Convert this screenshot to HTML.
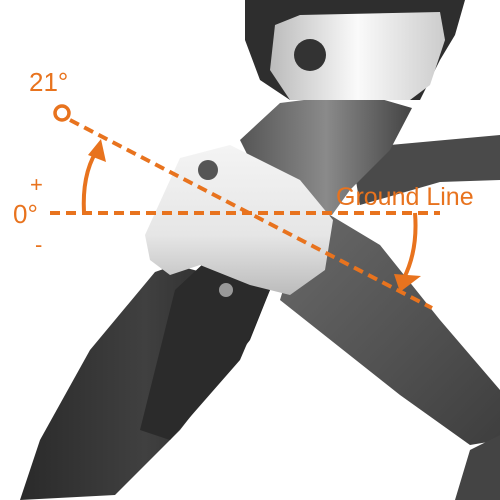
<!DOCTYPE html>
<html><head><meta charset="utf-8"><style>
html,body{margin:0;padding:0;background:#fff;width:500px;height:500px;overflow:hidden}
svg{display:block}
text{font-family:"Liberation Sans",sans-serif;fill:#e8731e}
</style></head><body>
<svg width="500" height="500" viewBox="0 0 500 500">
<defs>
<linearGradient id="legA" x1="0" y1="0" x2="1" y2="0"><stop offset="0" stop-color="#2a2a2a"/><stop offset="0.5" stop-color="#404040"/><stop offset="1" stop-color="#222"/></linearGradient>
<linearGradient id="legB" x1="0" y1="0" x2="1" y2="1"><stop offset="0" stop-color="#6a6a6a"/><stop offset="1" stop-color="#3e3e3e"/></linearGradient>
<linearGradient id="white" x1="0" y1="0" x2="0" y2="1"><stop offset="0" stop-color="#f4f4f4"/><stop offset="0.6" stop-color="#e6e6e6"/><stop offset="1" stop-color="#bbb"/></linearGradient>
<linearGradient id="torso" x1="0" y1="0" x2="1" y2="0"><stop offset="0" stop-color="#555"/><stop offset="0.5" stop-color="#8a8a8a"/><stop offset="1" stop-color="#444"/></linearGradient>
<linearGradient id="visor" x1="0" y1="0" x2="1" y2="0"><stop offset="0" stop-color="#bbb"/><stop offset="0.5" stop-color="#fafafa"/><stop offset="1" stop-color="#ccc"/></linearGradient>
</defs>
<g>
<polygon points="355,175 390,145 500,135 500,180 440,182 360,205" fill="#4a4a4a"/>
<polygon points="240,140 280,103 360,93 412,108 390,150 350,190 332,215 300,212 250,160" fill="url(#torso)"/>
<polygon points="300,235 330,215 380,245 440,320 500,390 500,440 470,445 400,395 280,300" fill="url(#legB)"/>
<polygon points="245,0 465,0 455,35 440,60 420,100 290,100 260,80 245,40" fill="#2e2e2e"/>
<polygon points="275,25 300,15 440,12 445,40 430,85 410,100 290,100 270,70" fill="url(#visor)"/>
<circle cx="310" cy="55" r="16" fill="#333"/>
<polygon points="155,272 175,265 270,290 250,340 180,430 115,495 20,500 40,440 90,350" fill="url(#legA)"/>
<polygon points="175,290 205,262 230,262 270,290 240,360 170,440 140,430" fill="#2b2b2b"/>
<polygon points="145,235 180,158 230,145 300,180 333,220 325,270 290,295 250,285 200,265 170,275 150,260" fill="url(#white)"/>
<circle cx="208" cy="170" r="10" fill="#555"/>
<circle cx="226" cy="290" r="7" fill="#999"/>
<polygon points="470,450 500,435 500,500 455,500" fill="#444"/>
</g>
<g stroke="#e8731e" fill="none" stroke-width="4">
<line x1="70" y1="120" x2="432" y2="308" stroke-dasharray="10,6"/>
<line x1="50" y1="213" x2="440" y2="213" stroke-dasharray="10,6"/>
<circle cx="62" cy="113" r="7" stroke-width="3.5" fill="#fff"/>
<path d="M84,213 Q82,175 96,152"/>
<polygon points="88,155 101,139 106,162" fill="#e8731e" stroke="none"/>
<path d="M415,213 Q418,250 404,278"/>
<polygon points="394,274 421,276 400,292" fill="#e8731e" stroke="none"/>
</g>
<text x="29" y="91" font-size="26">21°</text>
<text x="30" y="192" font-size="22">+</text>
<text x="13" y="223" font-size="26">0°</text>
<text x="35" y="252" font-size="22">-</text>
<text x="336" y="205" font-size="25">Ground Line</text>
</svg>
</body></html>
